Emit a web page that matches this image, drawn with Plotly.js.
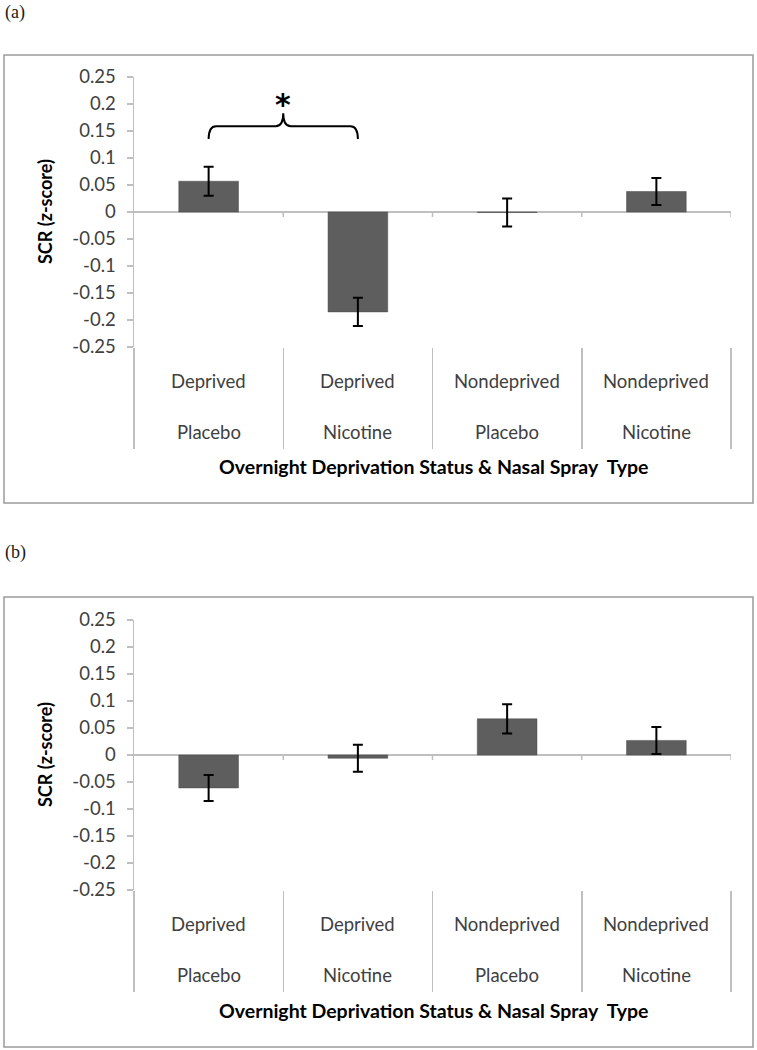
<!DOCTYPE html>
<html>
<head>
<meta charset="utf-8">
<script src="https://cdn.plot.ly/plotly-3.0.1.min.js"></script>
<style>
  html, body { margin: 0; padding: 0; background: #fff; }
  #chart { width: 757px; height: 1050px; }
</style>
</head>
<body>
<div id="chart"></div>
<script>
// ---- data ----
const deprivation = ['Deprived', 'Deprived', 'Nondeprived', 'Nondeprived'];
const sprayType = ['Placebo', 'Nicotine', 'Placebo', 'Nicotine'];
const categories = deprivation.map((d, i) => d + ' ' + sprayType[i]);

const scrA = [0.057, -0.185, -0.001, 0.038];
const errA = [0.027, 0.026, 0.026, 0.025];

const scrB = [-0.061, -0.006, 0.067, 0.027];
const errB = [0.024, 0.025, 0.027, 0.025];

const yTickVals = [0.25, 0.2, 0.15, 0.1, 0.05, 0, -0.05, -0.1, -0.15, -0.2, -0.25];
const yTickText = ['0.25', '0.2', '0.15', '0.1', '0.05', '0', '-0.05', '-0.1', '-0.15', '-0.2', '-0.25'];

const yTitle = 'SCR (z-score)';
const xTitle = 'Overnight Deprivation Status &amp; Nasal Spray&nbsp; Type';
const panelLabels = ['(a)', '(b)'];

// ---- layout helpers (pixel -> paper) ----
const W = 757, H = 1050;
const px = v => v / W;
const py = v => 1 - v / H;

const FONT = 'Lato, "Open Sans", sans-serif';
const GREY = '#bfbfbf';

function barTrace(vals, errs, xa, ya) {
  return {
    type: 'bar', x: categories, y: vals, xaxis: xa, yaxis: ya,
    marker: { color: '#5e5e5e', line: { color: '#4a4a4a', width: 0.5 } },
    error_y: { type: 'data', array: errs, visible: true, color: '#000', thickness: 2, width: 5 },
    showlegend: false, hoverinfo: 'skip'
  };
}

const data = [barTrace(scrA, errA, 'x', 'y'), barTrace(scrB, errB, 'x2', 'y2')];

function xAxis(anchor) {
  return {
    anchor: anchor, domain: [px(134), px(731)],
    type: 'category', range: [-0.5, 3.5], fixedrange: true,
    showgrid: false, showline: false, zeroline: false,
    showticklabels: false, ticks: 'outside', tickson: 'boundaries',
    ticklen: 101, tickwidth: 1.5, tickcolor: GREY
  };
}
function yAxis(anchor, top, bottom) {
  return {
    anchor: anchor, domain: [py(bottom), py(top)],
    range: [-0.25, 0.25], fixedrange: true,
    tickvals: yTickVals, ticktext: yTickText,
    showgrid: false, showline: true, linecolor: GREY, linewidth: 1.5,
    zeroline: true, zerolinecolor: GREY, zerolinewidth: 1.5,
    ticks: 'outside', ticklen: 6, tickwidth: 1.5, tickcolor: GREY,
    ticklabelstandoff: 7,
    tickfont: { family: FONT, size: 18.5, color: '#404040' }
  };
}

// panel pixel geometry
const panels = [
  { xa: 'x', ya: 'y', top: 77, bottom: 347, box: [4, 55, 753, 503], label: 12 },
  { xa: 'x2', ya: 'y2', top: 620, bottom: 890, box: [4, 597, 753, 1047], label: 552 }
];

const shapes = [];
const annotations = [];

panels.forEach((p, k) => {
  // outer frame
  shapes.push({ type: 'rect', xref: 'paper', yref: 'paper',
    x0: px(p.box[0]), x1: px(p.box[2]), y0: py(p.box[3]), y1: py(p.box[1]),
    line: { color: '#9a9a9a', width: 1.5 }, fillcolor: 'rgba(0,0,0,0)' });
  // small ticks on the zero line at category boundaries
  [0.5, 1.5, 2.5, 3.5].forEach(b => {
    shapes.push({ type: 'line', xref: p.xa, yref: p.ya, x0: b, x1: b,
      ysizemode: 'pixel', yanchor: 0, y0: 0, y1: -5,
      line: { color: GREY, width: 1.5 } });
  });
  // category labels (two lines)
  categories.forEach((c, i) => {
    annotations.push({ xref: p.xa, yref: 'paper', x: c, y: py(p.bottom + 34),
      text: deprivation[i], showarrow: false, yanchor: 'middle',
      font: { family: FONT, size: 18.5, color: '#404040' } });
    annotations.push({ xref: p.xa, yref: 'paper', x: c, y: py(p.bottom + 84.5),
      text: sprayType[i], showarrow: false, yanchor: 'middle',
      font: { family: FONT, size: 18.5, color: '#404040' } });
  });
  // x-axis title
  annotations.push({ xref: 'paper', yref: 'paper', x: px(433), y: py(p.bottom + 120),
    text: '<b>' + xTitle + '</b>', showarrow: false, yanchor: 'middle',
    font: { family: FONT, size: 19.5, color: '#000' } });
  // y-axis title
  annotations.push({ xref: 'paper', yref: 'paper', x: px(45), y: py((p.top + p.bottom) / 2),
    text: '<b>' + yTitle + '</b>', textangle: -90, showarrow: false,
    xanchor: 'center', yanchor: 'middle',
    font: { family: FONT, size: 18, color: '#000' } });
  // panel label
  annotations.push({ xref: 'paper', yref: 'paper', x: px(3), y: py(p.label),
    text: panelLabels[k], showarrow: false, xanchor: 'left', yanchor: 'middle',
    font: { family: '"Liberation Serif", "DejaVu Serif", serif', size: 18, color: '#1a1a1a' } });
});

// significance brace between Deprived Placebo and Deprived Nicotine (panel a)
shapes.push({ type: 'path', xref: 'x', yref: 'y',
  path: 'M 0,0.135 Q 0,0.159 0.05,0.159 L 0.45,0.159 Q 0.5,0.159 0.5,0.183 ' +
        'Q 0.5,0.159 0.55,0.159 L 0.95,0.159 Q 1,0.159 1,0.135',
  line: { color: '#000', width: 2 } });
annotations.push({ xref: 'x', yref: 'y', x: 0.5, y: 0.2, text: '<b>*</b>', showarrow: false,
  yanchor: 'middle', font: { family: '"DejaVu Sans", sans-serif', size: 30, color: '#000' } });

const layout = {
  width: W, height: H,
  margin: { l: 0, r: 0, t: 0, b: 0 },
  paper_bgcolor: '#fff', plot_bgcolor: '#fff',
  bargap: 0.6,
  xaxis: xAxis('y'), yaxis: yAxis('x', 77, 347),
  xaxis2: xAxis('y2'), yaxis2: yAxis('x2', 620, 890),
  shapes: shapes, annotations: annotations,
  showlegend: false
};

Plotly.newPlot('chart', data, layout, { displayModeBar: false, staticPlot: true });
</script>
</body>
</html>
